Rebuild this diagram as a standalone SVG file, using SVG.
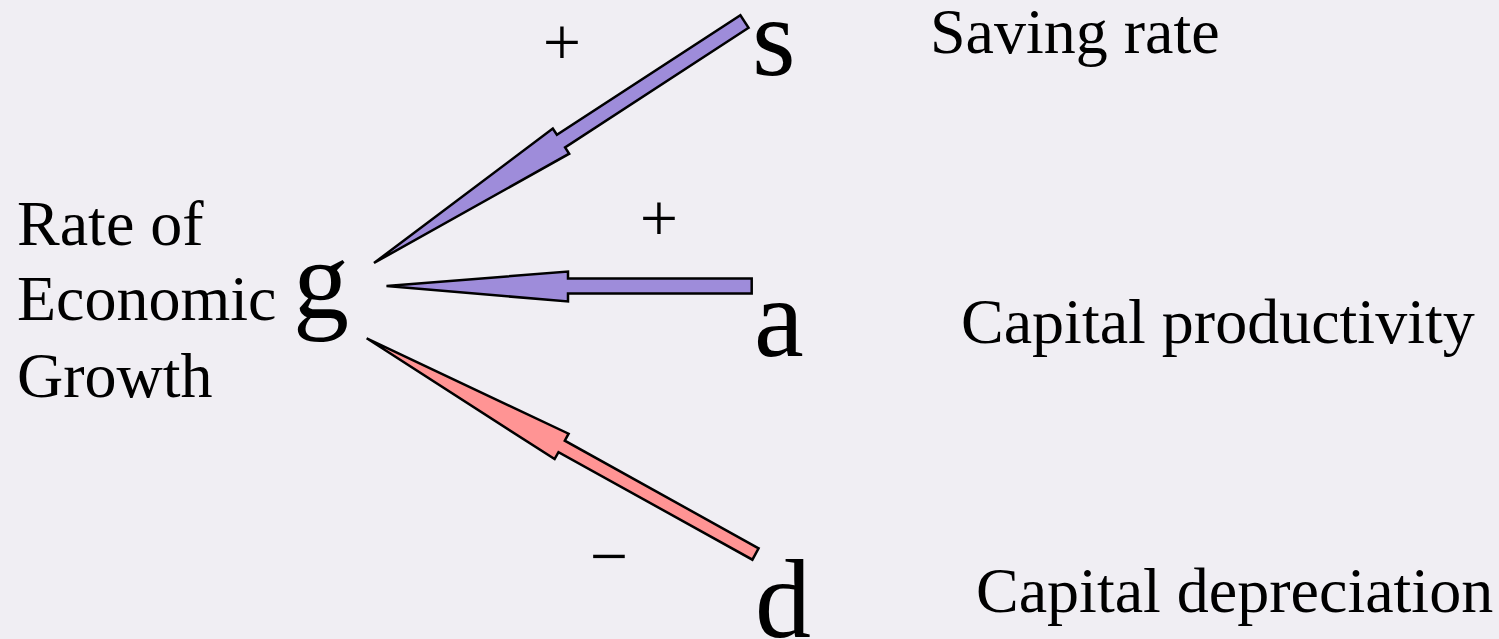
<svg xmlns="http://www.w3.org/2000/svg" width="1499" height="639" viewBox="0 0 1499 639">
<style>
.t{font-family:"Liberation Serif","Times New Roman",serif;fill:#000;}
.lab{font-size:64px;}
.big{font-size:112px;}
.sign{font-size:68px;text-anchor:middle;}
.arr{stroke:#000;stroke-width:2.5;stroke-linejoin:miter;}
.pos{fill:#9e8cda;}
.neg{fill:#ff9494;}
</style>
<rect x="0" y="0" width="1499" height="639" fill="#f0eef3"/>
<g id="connectors">
<polygon class="arr pos" points="748.6,27.8 565.1,147.4 569.2,153.7 374,263 552.8,128.5 556.9,134.8 740.4,15.2"/>
<polygon class="arr pos" points="751.7,278.5 568,278.5 568,271.5 386.5,286 568,301.5 568,293.5 751.7,293.5"/>
<polygon class="arr neg" points="758.6,548.3 564.8,440.7 568.6,433.7 366.7,338.3 554.6,459.1 558.5,452.1 752.4,559.7"/>
</g>
<g id="signs">
<text class="t sign" x="562" y="65">+</text>
<text class="t sign" x="659" y="241">+</text>
<text class="t sign" x="609" y="579">−</text>
</g>
<g id="node-g">
<text class="t lab" x="17" y="245">Rate of</text>
<text class="t lab" x="17" y="320">Economic</text>
<text class="t lab" x="17" y="397">Growth</text>
<text class="t big" x="293" y="318">g</text>
</g>
<g id="node-s">
<text class="t big" x="752" y="75">s</text>
<text class="t lab" x="930" y="53">Saving rate</text>
</g>
<g id="node-a">
<text class="t big" x="754" y="356">a</text>
<text class="t lab" x="961" y="343">Capital productivity</text>
</g>
<g id="node-d">
<text class="t big" x="755" y="637">d</text>
<text class="t lab" x="976" y="612">Capital depreciation</text>
</g>
</svg>
